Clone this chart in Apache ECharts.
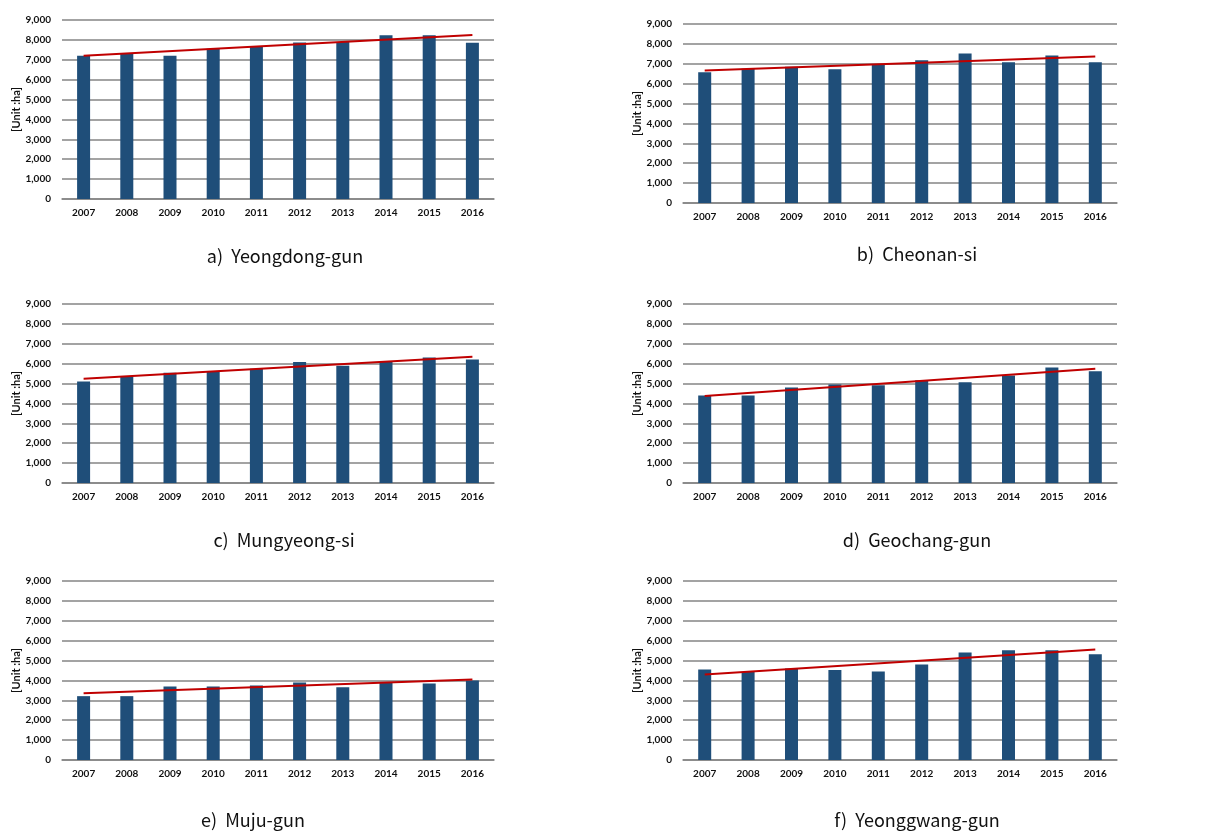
<!DOCTYPE html>
<html>
<head>
<meta charset="utf-8">
<script src="https://cdn.jsdelivr.net/npm/echarts@6/dist/echarts.min.js"></script>
<style>
  html, body { margin: 0; padding: 0; background: #fff; }
  #main { width: 1208px; height: 837px; }
</style>
</head>
<body>
<div id="main"></div>
<script>
const years = ['2007', '2008', '2009', '2010', '2011', '2012', '2013', '2014', '2015', '2016'];
const yTicks = [0, 9000, 1000]; // min, max, interval

// bar values [ha]
const yeongdong = [7200, 7320, 7200, 7550, 7650, 7870, 7900, 8230, 8230, 7850];
const cheonan = [6580, 6750, 6850, 6720, 6980, 7180, 7520, 7080, 7420, 7080];
const mungyeong = [5100, 5370, 5540, 5620, 5740, 6080, 5890, 6110, 6310, 6210];
const geochang = [4400, 4400, 4800, 4950, 4920, 5170, 5070, 5410, 5810, 5620];
const muju = [3210, 3210, 3700, 3700, 3750, 3900, 3660, 3910, 3850, 4000];
const yeonggwang = [4550, 4430, 4600, 4530, 4450, 4800, 5400, 5520, 5520, 5320];

// trend line ends (2007, 2016)
const yeongdongTrend = [7200, 8250];
const cheonanTrend = [6660, 7370];
const mungyeongTrend = [5240, 6350];
const geochangTrend = [4370, 5740];
const mujuTrend = [3360, 4050];
const yeonggwangTrend = [4300, 5550];

const captions = ['a)  Yeongdong-gun', 'b)  Cheonan-si', 'c)  Mungyeong-si', 'd)  Geochang-gun', 'e)  Muju-gun', 'f)  Yeonggwang-gun'];

const panels = [
  { bars: yeongdong, trend: yeongdongTrend, grid: { left: 62, top: 20, width: 432, height: 179 }, nameGap: 40, cap: [280, 242] },
  { bars: cheonan, trend: cheonanTrend, grid: { left: 683, top: 24, width: 434, height: 179 }, nameGap: 37, cap: [912, 240] },
  { bars: mungyeong, trend: mungyeongTrend, grid: { left: 62, top: 304, width: 432, height: 179 }, nameGap: 40, cap: [279, 526] },
  { bars: geochang, trend: geochangTrend, grid: { left: 683, top: 304, width: 434, height: 179 }, nameGap: 37, cap: [912, 526] },
  { bars: muju, trend: mujuTrend, grid: { left: 62, top: 581, width: 432, height: 179 }, nameGap: 40, cap: [248, 806] },
  { bars: yeonggwang, trend: yeonggwangTrend, grid: { left: 683, top: 581, width: 434, height: 179 }, nameGap: 37, cap: [912, 806] },
];

const labelFont = {
  color: '#111',
  fontSize: 10,
  fontWeight: 700,
  fontFamily: 'Lato',
};

var option = {
  backgroundColor: '#fff',
  animation: false,
  title: [],
  grid: [],
  xAxis: [],
  yAxis: [],
  series: [],
};

panels.forEach((p, i) => {
  option.grid.push(p.grid);
  option.title.push({
    text: captions[i],
    left: p.cap[0],
    top: p.cap[1],
    textAlign: 'center',
    textStyle: {
      color: '#111',
      fontSize: 18,
      fontWeight: 'normal',
      fontFamily: 'Noto Sans CJK KR',
    },
  });
  option.xAxis.push({
    type: 'category',
    gridIndex: i,
    data: years,
    axisTick: { show: false },
    axisLine: { show: true, lineStyle: { color: '#858585', width: 1.5 } },
    axisLabel: Object.assign({ margin: 9 }, labelFont),
  });
  option.yAxis.push({
    type: 'value',
    gridIndex: i,
    min: yTicks[0],
    max: yTicks[1],
    interval: yTicks[2],
    name: '[Unit :ha]',
    nameLocation: 'middle',
    nameGap: p.nameGap,
    nameRotate: 90,
    nameTextStyle: Object.assign({}, labelFont, { fontSize: 11 }),
    axisLine: { show: false },
    axisTick: { show: false },
    axisLabel: Object.assign({
      margin: 11,
      formatter: (v) => v.toLocaleString('en-US'),
    }, labelFont),
    splitLine: { lineStyle: { color: '#858585', width: 1.5 } },
  });
  option.series.push({
    type: 'bar',
    xAxisIndex: i,
    yAxisIndex: i,
    data: p.bars,
    barWidth: 13,
    itemStyle: { color: '#1f4e79' },
  });
  let trendData = years.map(() => null);
  trendData[0] = p.trend[0];
  trendData[years.length - 1] = p.trend[1];
  option.series.push({
    type: 'line',
    xAxisIndex: i,
    yAxisIndex: i,
    data: trendData,
    connectNulls: true,
    showSymbol: false,
    symbol: 'none',
    lineStyle: { color: '#c00000', width: 2 },
    z: 5,
  });
});

var myChart = echarts.init(document.getElementById('main'));
option && myChart.setOption(option);
</script>
</body>
</html>
